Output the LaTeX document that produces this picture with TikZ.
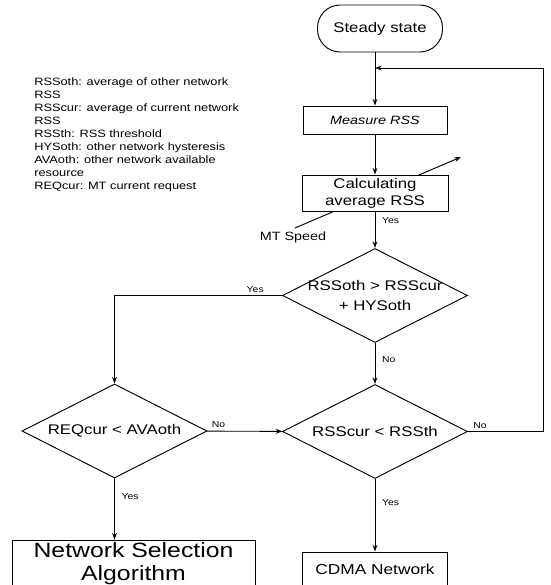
\documentclass[tikz,border=0pt]{standalone}
\usepackage{fontspec}
\newfontfamily\flowfont[FakeStretch=1.2]{Liberation Sans}
\usetikzlibrary{arrows.meta,positioning,shapes.geometric,backgrounds}

\begin{document}
\begin{tikzpicture}[
    x=0.75pt, y=-0.75pt,
    box/.style={draw, fill=white, line width=0.7pt, inner sep=0pt, align=center, font=\flowfont\fontsize{10.5}{12.75}\selectfont},
    dia/.style={draw, diamond, fill=white, line width=0.7pt, inner sep=0pt, minimum width=138.75pt, minimum height=70.5pt},
    dtext/.style={align=center, inner sep=0pt, font=\flowfont\fontsize{10.5}{15}\selectfont},
    arr/.style={-{Stealth[length=5pt,width=3.6pt]}, line width=0.7pt, black},
    yn/.style={font=\flowfont\fontsize{6.5}{7}\selectfont, inner sep=2pt},
]
\useasboundingbox (0,0) rectangle (550,585);
\clip (0,0) rectangle (550,585);
% start and process boxes
\node[box, rounded corners=17pt, minimum width=93.75pt, minimum height=35.25pt] (steady) at (380,28.5) {Steady state};
\node[box, minimum width=108pt, minimum height=21pt, font=\flowfont\itshape\fontsize{9}{11}\selectfont] (measure) at (375,120) {Measure RSS};
\node[box, minimum width=109.5pt, minimum height=27pt] (calc) at (375,193) {Calculating\\average RSS};

% decisions
\node[dia, label={[dtext]center:RSSoth > RSScur\\+ HYSoth}] (rsso) at (375,295.5) {};
\node[dia, label={[dtext]center:REQcur < AVAoth}] (reqc) at (114.5,431) {};
\node[dia, label={[dtext]center:RSScur < RSSth}] (rssc) at (375,431.5) {};

% outcomes
\node[box, minimum width=182.25pt, minimum height=35.25pt, font=\flowfont\fontsize{15.5}{17.25}\selectfont] (nsa) at (133.5,563.5) {Network Selection\\Algorithm};
\node[box, minimum width=108.75pt, minimum height=26.25pt, font=\flowfont\fontsize{10.8}{13}\selectfont] (cdma) at (375,569.5) {CDMA Network};

% legend
\node[anchor=north west, align=left, inner sep=0pt, font=\flowfont\fontsize{8}{9.75}\selectfont] (legend) at (34,78) {RSSoth: average of other network\\RSS\\RSScur: average of current network\\RSS\\RSSth: RSS threshold\\HYSoth: other network hysteresis\\AVAoth: other network available\\resource\\REQcur: MT current request};

% speed input
\node[font=\flowfont\fontsize{9}{11}\selectfont, inner sep=0pt] (mts) at (293,237) {MT Speed};
\coordinate (spd) at (295,228);
\coordinate (spdtip) at (461,157);
\begin{scope}[on background layer]
\draw[arr] (spd) -- (spdtip);
\end{scope}

% connectors
\coordinate (loopc) at (543,68);
\coordinate (jn) at (measure.north |- loopc);
\draw[arr] (measure.north |- steady.south) -- (measure.north);
\draw[arr] (rssc.east) -| node[yn, above, pos=0.08] {No} (loopc) -- (jn);
\draw[arr] (measure) -- (calc);
\draw[arr] (calc) -- node[yn, right, pos=0.24, xshift=3pt] {Yes} (rsso);
\draw[arr] (rsso.west) -| node[yn, above, pos=0.08] {Yes} (reqc.north);
\draw[arr] (rsso) -- node[yn, right, pos=0.4, xshift=3pt] {No} (rssc);
\draw[arr] (reqc) -- node[yn, above, pos=0.15] {No} (rssc);
\draw[arr] (reqc.south) -- node[yn, right, pos=0.3, xshift=3pt] {Yes} (reqc.south |- nsa.north);
\draw[arr] (rssc) -- node[yn, right, pos=0.33, xshift=3pt] {Yes} (cdma);
\end{tikzpicture}
\end{document}
